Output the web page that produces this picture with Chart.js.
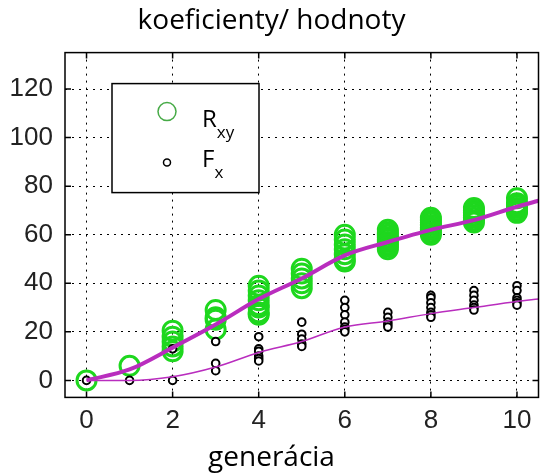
<!DOCTYPE html>
<html>
<head>
<meta charset="utf-8">
<script src="https://cdn.jsdelivr.net/npm/chart.js@4/dist/chart.umd.min.js"></script>
<style>
    body { margin: 0; background: #fff; }
</style>
</head>
<body>
<canvas id="chart" width="551" height="476"></canvas>
<script>
// data
const generations = [0, 1, 2, 3, 4, 5, 6, 7, 8, 9, 10];
const rxyValues = [
    [0],
    [6],
    [20.5, 18, 16, 14, 12],
    [29, 26, 25, 21],
    [39, 37, 35, 33, 31, 30, 28, 27],
    [46, 44, 42, 40, 38],
    [60, 58, 56, 54, 52, 50, 49],
    [62, 61, 60, 59, 58, 57, 56, 55, 54],
    [67, 66, 65, 64, 63, 62, 61, 60],
    [71, 70, 69, 68, 67, 66, 65],
    [75, 73, 72, 71, 70, 69]
];
const fxValues = [
    [0],
    [0],
    [13, 0],
    [16, 7, 4],
    [18, 13, 12, 10, 9, 8],
    [24, 19, 17, 15, 14],
    [33, 30, 27, 24, 22, 21, 20],
    [28, 26, 24, 23, 22],
    [35, 34, 32, 30, 28, 27, 26],
    [37, 35, 33, 31, 30, 29],
    [39, 37, 34, 33, 32, 31]
];
const lineX = [0, 1, 2, 3, 4, 5, 6, 7, 8, 9, 10, 10.5];
const rxyMean = [0, 4.5, 13.5, 23, 33.5, 42, 51.5, 57, 62, 66, 71.5, 74];
const fxMean = [0, 0, 1.5, 5.5, 11.5, 16, 22, 24.5, 27.5, 30, 32.5, 33.5];
const xTickValues = [0, 2, 4, 6, 8, 10];
const yTickValues = [0, 20, 40, 60, 80, 100, 120];

const GREEN = 'rgb(30,215,30)';
const MAGENTA = 'rgb(185,45,190)';
const TEXT_FONT = '"Open Sans", "Noto Sans", sans-serif';
const TICK_FONT = '"Liberation Sans Narrow", "Liberation Sans", sans-serif';

const toPoints = function (groups) {
    const pts = [];
    groups.forEach((vals, i) => {
        vals.forEach(v => pts.push({ x: generations[i], y: v }));
    });
    return pts;
};

const toLine = function (ys) {
    return lineX.map((x, i) => ({ x: x, y: ys[i] }));
};

// label with a subscript, e.g. R + xy
const drawLabel = function (c, main, sub, x, y) {
    c.font = '24px ' + TEXT_FONT;
    c.fillText(main, x, y);
    const w = c.measureText(main).width;
    c.font = '17px ' + TEXT_FONT;
    c.fillText(sub, x + w, y + 11);
};

// frame, inward ticks (matlab style) and the legend box
const framePlugin = {
    id: 'frame',
    afterDraw(chart) {
        const c = chart.ctx;
        const a = chart.chartArea;
        const xs = chart.scales.x;
        const ys = chart.scales.y;
        c.save();
        c.setLineDash([]);
        c.strokeStyle = '#000';
        c.lineWidth = 1.5;
        c.strokeRect(a.left, a.top, a.right - a.left, a.bottom - a.top);

        c.beginPath();
        xTickValues.forEach(v => {
            const px = xs.getPixelForValue(v);
            c.moveTo(px, a.bottom); c.lineTo(px, a.bottom - 6);
            c.moveTo(px, a.top); c.lineTo(px, a.top + 6);
        });
        yTickValues.forEach(v => {
            const py = ys.getPixelForValue(v);
            c.moveTo(a.left, py); c.lineTo(a.left + 6, py);
            c.moveTo(a.right, py); c.lineTo(a.right - 6, py);
        });
        c.stroke();

        // legend
        const bx = a.left + 47, by = a.top + 31, bw = 147, bh = 109;
        c.fillStyle = '#fff';
        c.fillRect(bx, by, bw, bh);
        c.strokeRect(bx, by, bw, bh);

        c.strokeStyle = 'rgb(70,170,70)';
        c.beginPath();
        c.arc(bx + 55, by + 28, 9, 0, Math.PI * 2);
        c.stroke();
        c.strokeStyle = '#000';
        c.beginPath();
        c.arc(bx + 55, by + 79, 3.5, 0, Math.PI * 2);
        c.stroke();

        c.fillStyle = '#000';
        c.textBaseline = 'alphabetic';
        c.textAlign = 'left';
        drawLabel(c, 'R', 'xy', bx + 90, by + 43);
        drawLabel(c, 'F', 'x', bx + 90, by + 83);
        c.restore();
    }
};

const chart = new Chart(document.getElementById('chart'), {
    type: 'scatter',
    data: {
        datasets: [
            {
                type: 'line',
                data: toLine(rxyMean),
                borderColor: MAGENTA,
                borderWidth: 4,
                pointRadius: 0,
                cubicInterpolationMode: 'monotone',
                order: 0
            },
            {
                type: 'line',
                data: toLine(fxMean),
                borderColor: MAGENTA,
                borderWidth: 1.5,
                pointRadius: 0,
                cubicInterpolationMode: 'monotone',
                order: 0
            },
            {
                label: 'Fx',
                data: toPoints(fxValues),
                pointRadius: 3.8,
                borderWidth: 2,
                borderColor: '#000',
                backgroundColor: '#fff',
                order: 1
            },
            {
                label: 'Rxy',
                data: toPoints(rxyValues),
                pointRadius: 9.5,
                borderWidth: 3,
                borderColor: GREEN,
                backgroundColor: 'rgba(0,0,0,0)',
                order: 2
            }
        ]
    },
    options: {
        responsive: false,
        animation: false,
        layout: { padding: { left: 0, right: 8, top: 0, bottom: 0 } },
        plugins: {
            legend: { display: false },
            tooltip: { enabled: false },
            title: {
                display: true,
                text: 'koeficienty/ hodnoty',
                color: '#000',
                font: { family: TEXT_FONT, size: 28, weight: 'normal', lineHeight: 1.2 },
                padding: { top: 4, bottom: 15 }
            },
            subtitle: {
                display: true,
                position: 'bottom',
                text: 'generácia',
                color: '#000',
                font: { family: TEXT_FONT, size: 28, weight: 'normal', lineHeight: 1.2 },
                padding: { top: 0, bottom: 1 }
            }
        },
        scales: {
            x: {
                type: 'linear',
                min: -0.5,
                max: 10.5,
                afterBuildTicks: s => { s.ticks = xTickValues.map(v => ({ value: v })); },
                afterFit: s => { s.height = 44; },
                grid: { color: '#000', lineWidth: 1, drawTicks: false },
                border: { display: false, dash: [2, 5] },
                ticks: {
                    color: '#222',
                    padding: 8,
                    maxRotation: 0,
                    font: { family: TICK_FONT, size: 26 }
                }
            },
            y: {
                type: 'linear',
                min: -7,
                max: 135,
                afterBuildTicks: s => { s.ticks = yTickValues.map(v => ({ value: v })); },
                afterFit: s => { s.width = 65; },
                grid: { color: '#000', lineWidth: 1, drawTicks: false },
                border: { display: false, dash: [2, 5] },
                ticks: {
                    color: '#222',
                    padding: 12,
                    font: { family: TICK_FONT, size: 26 }
                }
            }
        }
    },
    plugins: [framePlugin]
});
</script>
</body>
</html>
